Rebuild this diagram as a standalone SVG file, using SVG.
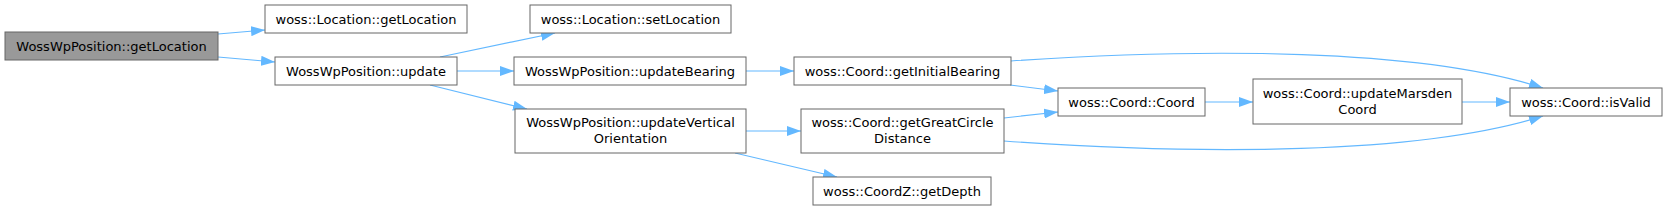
<svg xmlns="http://www.w3.org/2000/svg" width="1667" height="210" viewBox="0 0 1667 210">
<defs>
<style>
.n rect{fill:#ffffff;stroke:#666666;stroke-width:1}
.n.main rect{fill:#999999}
.n text{font-family:"DejaVu Sans",sans-serif;font-size:13px;fill:#000000;text-anchor:middle}
.e path{fill:none;stroke:#63b8ff;stroke-width:1.2;marker-end:url(#ah)}
</style>
<marker id="ah" markerUnits="userSpaceOnUse" markerWidth="14" markerHeight="10" refX="14" refY="5" orient="auto">
<path d="M0,0 L14,5 L0,10 z" fill="#63b8ff"/>
</marker>
</defs>
<rect x="0" y="0" width="1667" height="210" fill="#ffffff"/>
<g id="edges" class="e">
<path d="M218,34 L265,30"/>
<path d="M218,57 L275,62"/>
<path d="M440,57 L555,33"/>
<path d="M457,71 L514,71"/>
<path d="M430,85 L527,109"/>
<path d="M746,71 L794,71"/>
<path d="M746,131 L801,131"/>
<path d="M735,153 L837,177"/>
<path d="M1010,85 L1058,91"/>
<path d="M1004,118 L1058,112"/>
<path d="M1205,102 L1253,102"/>
<path d="M1462,102 L1510,102"/>
<path d="M1011,61 C1200,48 1420,48 1543,88"/>
<path d="M1004,141 C1200,155 1420,155 1543,116"/>
</g>
<g id="node-main" class="n main"><rect x="5" y="32" width="213" height="28"/><text x="111.5" y="50.5">WossWpPosition::getLocation</text></g>
<g id="node-locget" class="n"><rect x="265" y="5" width="202" height="28"/><text x="366" y="23.5">woss::Location::getLocation</text></g>
<g id="node-update" class="n"><rect x="275" y="57" width="182" height="28"/><text x="366" y="75.5">WossWpPosition::update</text></g>
<g id="node-setloc" class="n"><rect x="530" y="5" width="201" height="28"/><text x="630.5" y="23.5">woss::Location::setLocation</text></g>
<g id="node-updbearing" class="n"><rect x="514" y="57" width="232" height="28"/><text x="630" y="75.5">WossWpPosition::updateBearing</text></g>
<g id="node-updvert" class="n"><rect x="515" y="109" width="231" height="44"/><text x="630.5" y="127">WossWpPosition::updateVertical</text><text x="630.5" y="143">Orientation</text></g>
<g id="node-initbearing" class="n"><rect x="794" y="57" width="217" height="28"/><text x="902.5" y="75.5">woss::Coord::getInitialBearing</text></g>
<g id="node-greatcircle" class="n"><rect x="801" y="109" width="203" height="44"/><text x="902.5" y="127">woss::Coord::getGreatCircle</text><text x="902.5" y="143">Distance</text></g>
<g id="node-getdepth" class="n"><rect x="813" y="177" width="178" height="28"/><text x="902" y="195.5">woss::CoordZ::getDepth</text></g>
<g id="node-coord" class="n"><rect x="1058" y="88" width="147" height="28"/><text x="1131.5" y="106.5">woss::Coord::Coord</text></g>
<g id="node-marsden" class="n"><rect x="1253" y="79" width="209" height="45"/><text x="1357.5" y="97.5">woss::Coord::updateMarsden</text><text x="1357.5" y="113.5">Coord</text></g>
<g id="node-isvalid" class="n"><rect x="1510" y="88" width="152" height="28"/><text x="1586" y="106.5">woss::Coord::isValid</text></g>
</svg>
